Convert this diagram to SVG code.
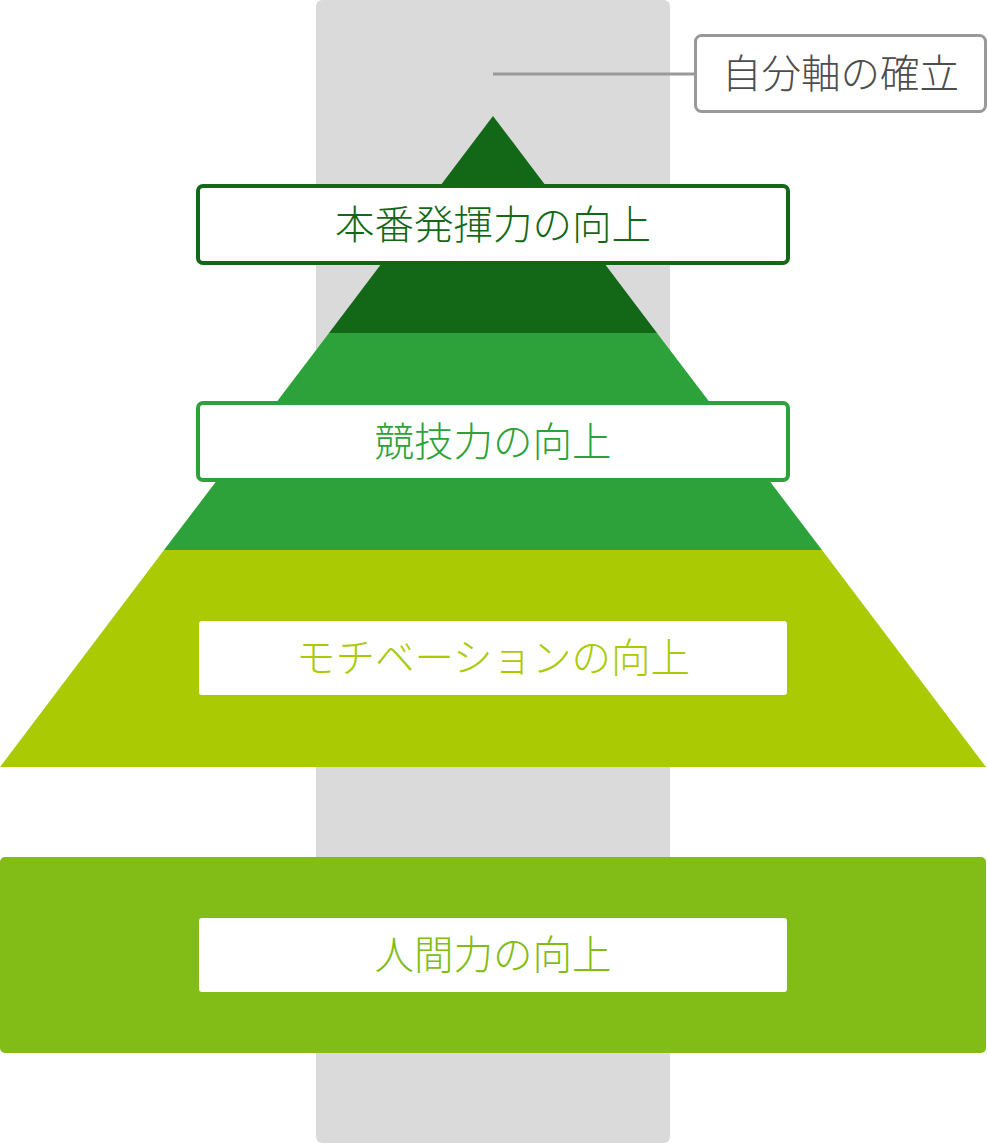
<svg xmlns="http://www.w3.org/2000/svg" width="988" height="1144" viewBox="0 0 988 1144">
<style>
.t{font-family:"Noto Sans CJK JP","Noto Sans",sans-serif;font-size:39.5px;font-weight:300;text-anchor:middle}
.box{fill:#fff;stroke-width:4}
</style>
<rect width="988" height="1144" fill="#fff"/>
<g id="axis">
<rect x="316" y="0" width="354" height="1143" rx="6" fill="#dadada"/>
</g>
<g id="connectors">
<line x1="493" y1="74" x2="695" y2="74" stroke="#999" stroke-width="3"/>
</g>
<g id="pyramid">
<polygon points="493,116 657,333 329,333" fill="#136818"/>
<polygon points="329,333 657,333 822,550 164,550" fill="#2ea23a"/>
<polygon points="164,550 822,550 986,767 0,767" fill="#aacb03"/>
</g>
<g id="n-jibunjiku">
<rect x="695.5" y="35.5" width="290" height="76" rx="6" fill="#fff" stroke="#999" stroke-width="3"/>
<text class="t" x="840.5" y="87.5" fill="#4d4d4d">自分軸の確立</text>
</g>
<g id="n-honban">
<rect class="box" x="198" y="186" width="590" height="77" rx="5" stroke="#136818"/>
<text class="t" x="493" y="238.5" fill="#136818">本番発揮力の向上</text>
</g>
<g id="n-kyogi">
<rect class="box" x="198" y="403" width="590" height="77" rx="5" stroke="#2ea23a"/>
<text class="t" x="493" y="455.5" fill="#2ea23a">競技力の向上</text>
</g>
<g id="n-motivation">
<rect x="199" y="621" width="588" height="74" rx="3" fill="#fff"/>
<text class="t" x="493" y="671.5" fill="#aacb03">モチベーションの向上</text>
</g>
<g id="n-ningen">
<rect x="0" y="857" width="986" height="196" rx="5" fill="#82bd17"/>
<rect x="199" y="918" width="588" height="74" rx="3" fill="#fff"/>
<text class="t" x="493" y="968.5" fill="#82bd17">人間力の向上</text>
</g>
</svg>
